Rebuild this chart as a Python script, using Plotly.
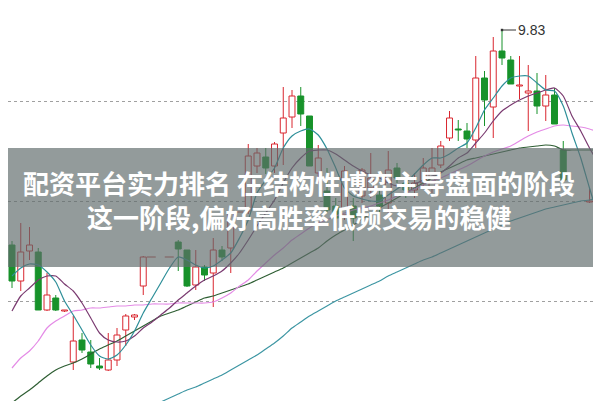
import plotly.graph_objects as go

# ---- data (price units) ----
days = [0, 1, 2, 3, 4, 5, 6, 7, 8, 9, 10, 11, 12, 13, 14, 15,
        19, 20, 21, 22, 23, 24, 25,
        27, 28, 29, 30, 31, 32, 33, 34, 35, 36, 37, 38, 39, 40, 41, 42, 43, 44,
        45, 46, 47, 48, 49, 50, 51, 52, 53, 54, 55, 56, 57, 58, 59, 60, 61, 62, 63,
        66, 67, 68]
opens = [8.755, 8.575, 8.725, 8.72, 8.43, 8.49, 8.425, 8.17, 8.28, 8.22, 8.15, 8.13, 8.18, 8.33, 8.395, 8.55,
         8.77, 8.73, 8.555, 8.645, 8.615, 8.73, 8.74,
         8.925, 9.15, 9.195, 9.15, 9.315, 9.395, 9.50, 9.40, 9.115, 9.025, 8.95, 8.905, 8.95, 9.00, 9.04, 9.005, 8.965, 9.14,
         9.065, 9.03, 9.065, 9.04, 9.155, 9.29, 9.335, 9.325, 9.28, 9.59, 9.445, 9.725, 9.68, 9.55, 9.515, 9.525, 9.45, 9.505, 9.23,
         8.97, 8.865, 8.855]
highs = [8.775, 8.865, 8.845, 8.74, 8.615, 8.505, 8.43, 8.40, 8.315, 8.28, 8.19, 8.315, 8.34, 8.41, 8.41, 8.70,
         8.78, 8.73, 8.73, 8.655, 8.79, 8.75, 8.93,
         9.26, 9.24, 9.24, 9.27, 9.545, 9.53, 9.545, 9.40, 9.255, 9.14, 8.99, 9.15, 8.99, 9.14, 9.215, 9.04, 9.225, 9.165,
         9.09, 9.115, 9.19, 9.24, 9.275, 9.425, 9.38, 9.365, 9.70, 9.625, 9.795, 9.83, 9.70, 9.70, 9.655, 9.615, 9.605, 9.54, 9.275,
         9.04, 8.955, 8.865]
lows = [8.54, 8.525, 8.68, 8.43, 8.425, 8.425, 8.42, 8.13, 8.215, 8.14, 8.13, 8.125, 8.15, 8.25, 8.38, 8.505,
        8.625, 8.545, 8.53, 8.575, 8.445, 8.675, 8.615,
        8.91, 9.115, 9.11, 9.115, 9.155, 9.34, 9.35, 9.15, 9.065, 8.915, 8.865, 8.88, 8.775, 8.965, 8.99, 8.915, 8.915, 9.065,
        8.99, 8.99, 9.04, 9.015, 9.14, 9.275, 9.275, 9.24, 9.24, 9.35, 9.29, 9.655, 9.56, 9.485, 9.325, 9.41, 9.375, 9.36, 9.08,
        8.965, 8.625, 8.70]
closes = [8.575, 8.72, 8.755, 8.43, 8.505, 8.43, 8.43, 8.275, 8.23, 8.16, 8.14, 8.18, 8.305, 8.40, 8.405, 8.695,
          8.735, 8.55, 8.645, 8.605, 8.73, 8.695, 8.92,
          9.20, 9.215, 9.14, 9.26, 9.39, 9.50, 9.41, 9.15, 9.19, 8.93, 8.89, 9.125, 8.89, 9.13, 9.09, 8.95, 9.13, 9.09,
          9.03, 9.065, 9.14, 9.14, 9.25, 9.39, 9.33, 9.285, 9.59, 9.48, 9.725, 9.69, 9.56, 9.555, 9.525, 9.45, 9.505, 9.36, 9.08,
          8.975, 8.855, 8.74]

all_days = list(range(69))
ma5 = [8.60, 8.64, 8.66, 8.655, 8.62, 8.57, 8.475, 8.405, 8.33, 8.255,
       8.20, 8.185, 8.205, 8.255, 8.325, 8.415, 8.49, 8.565, 8.64, 8.695,
       8.68, 8.655, 8.64, 8.65, 8.68, 8.715, 8.79, 8.88, 9.015, 9.08,
       9.14, 9.24, 9.30, 9.325, 9.335, 9.305, 9.235, 9.14, 9.04, 9.00,
       8.985, 8.975, 8.975, 9.005, 9.035, 9.065, 9.11, 9.155, 9.19, 9.19,
       9.21, 9.24, 9.265, 9.34, 9.43, 9.49, 9.55, 9.59, 9.60, 9.60,
       9.565, 9.53, 9.525, 9.45, 9.315, 9.19, 9.04, 8.905, 8.84]
ma10 = [8.425, 8.50, 8.54, 8.58, 8.60, 8.60, 8.56, 8.525, 8.465, 8.39,
        8.315, 8.28, 8.27, 8.275, 8.30, 8.34, 8.37, 8.405, 8.44, 8.48,
        8.515, 8.55, 8.58, 8.60, 8.625, 8.665, 8.715, 8.78, 8.85, 8.915,
        8.98, 9.065, 9.14, 9.19, 9.225, 9.23, 9.23, 9.21, 9.18, 9.15,
        9.125, 9.105, 9.09, 9.065, 9.05, 9.05, 9.06, 9.08, 9.10, 9.115,
        9.15, 9.19, 9.215, 9.265, 9.315, 9.375, 9.425, 9.455, 9.48, 9.50,
        9.515, 9.53, 9.54, 9.50, 9.40, 9.325, 9.24, 9.165, 9.08]
ma20 = [8.14, 8.19, 8.225, 8.275, 8.34, 8.375, 8.40, 8.425, 8.43, 8.44,
        8.44, 8.445, 8.45, 8.45, 8.455, 8.455, 8.46, 8.46, 8.46, 8.465,
        8.465, 8.465, 8.465, 8.47, 8.49, 8.515, 8.55, 8.58, 8.625, 8.665,
        8.705, 8.74, 8.78, 8.81, 8.84, 8.865, 8.88, 8.90, 8.915, 8.93,
        8.94, 8.95, 8.965, 8.98, 9.00, 9.015, 9.035, 9.055, 9.075, 9.09,
        9.11, 9.13, 9.15, 9.175, 9.20, 9.22, 9.235, 9.25, 9.275, 9.30,
        9.32, 9.335, 9.35, 9.355, 9.35, 9.345, 9.335, 9.32, 9.305]
ma30 = [7.965, 8.00, 8.03, 8.065, 8.10, 8.13, 8.15, 8.165, 8.185, 8.21,
        8.235, 8.255, 8.275, 8.30, 8.325, 8.35, 8.375, 8.40, 8.415, 8.43,
        8.45, 8.47, 8.49, 8.50, 8.515, 8.53, 8.545, 8.56, 8.58, 8.60,
        8.62, 8.64, 8.665, 8.69, 8.715, 8.74, 8.775, 8.805, 8.83, 8.855,
        8.885, 8.91, 8.94, 8.965, 8.99, 9.015, 9.04, 9.065, 9.09, 9.12,
        9.14, 9.16, 9.18, 9.19, 9.20, 9.21, 9.22, 9.23, 9.24, 9.245,
        9.25, 9.255, 9.25, 9.23, 9.23, 9.23, 9.23, 9.23, 9.23]
ma60 = [None] * 13 + [7.90, 7.92,
        7.935, 7.95, 7.97, 7.99, 8.01, 8.03, 8.045, 8.065, 8.085, 8.105,
        8.13, 8.155, 8.18, 8.205, 8.235, 8.265, 8.30, 8.34, 8.37, 8.40,
        8.425, 8.45, 8.475, 8.495, 8.515, 8.535, 8.555, 8.575, 8.60, 8.62,
        8.64, 8.66, 8.68, 8.695, 8.715, 8.735, 8.755, 8.775, 8.795, 8.815,
        8.835, 8.855, 8.875, 8.89, 8.905, 8.92, 8.935, 8.945, 8.955, 8.965,
        8.975, 8.98, 8.99, 9.00]

# gaps (dashed level lines over days without candles)
gap_from = [15, 25]
gap_to = [19, 27]
gap_level = [8.695, 8.92]

grid_levels = [9.475, 8.975, 8.475, 7.975]
peak_day = 56
peak_value = 9.83
peak_label = "9.83"

title_line1 = "配资平台实力排名 在结构性博弈主导盘面的阶段"
title_line2 = "这一阶段,偏好高胜率低频交易的稳健"

for arr in (ma5, ma10, ma20, ma30, ma60):
    assert len(arr) == 69, len(arr)
assert len(days) == len(opens) == len(highs) == len(lows) == len(closes)

RED = "#d9262f"
GREEN = "#17922a"
BODY_W = 0.68
MIN_BODY = 0.004

fig = go.Figure()

# wicks (drawn outside the body so hollow bodies stay clean)
for up in (True, False):
    wx, wy = [], []
    for d, o, h, l, c in zip(days, opens, highs, lows, closes):
        if (c >= o) != up:
            continue
        top, bot = max(o, c), min(o, c)
        if h > top:
            wx += [d, d, None]; wy += [top, h, None]
        if l < bot:
            wx += [d, d, None]; wy += [bot, l, None]
    fig.add_trace(go.Scatter(x=wx, y=wy, mode="lines",
                             line=dict(color=RED if up else GREEN, width=1),
                             showlegend=False, hoverinfo="skip"))

# bodies
for up in (True, False):
    bx, bbase, bh = [], [], []
    for d, o, c in zip(days, opens, closes):
        if (c >= o) != up:
            continue
        bot = min(o, c)
        bx.append(d); bbase.append(bot); bh.append(max(abs(c - o), MIN_BODY))
    fig.add_trace(go.Bar(x=bx, y=bh, base=bbase, width=BODY_W,
                         marker=dict(color="#ffffff" if up else GREEN,
                                     line=dict(color=RED if up else GREEN, width=1)),
                         showlegend=False, hoverinfo="skip"))

for a, b, lv in zip(gap_from, gap_to, gap_level):
    fig.add_trace(go.Scatter(x=[a + 0.4, b - 0.4], y=[lv, lv], mode="lines",
                             line=dict(color="#c0393b", width=1, dash="dash"),
                             showlegend=False, hoverinfo="skip"))

line_specs = [
    (ma60, "#3d96a3"),
    (ma30, "#2e5e33"),
    (ma20, "#e48be6"),
    (ma10, "#7a3a70"),
    (ma5, "#2e8f99"),
]
for vals, col in line_specs:
    fig.add_trace(go.Scatter(x=all_days, y=vals, mode="lines",
                             line=dict(color=col, width=1.2, shape="spline", smoothing=0.6),
                             connectgaps=False, showlegend=False, hoverinfo="skip"))

fig.add_annotation(x=peak_day, y=peak_value, text=peak_label, showarrow=True,
                   arrowhead=7, arrowsize=0.6, arrowwidth=1, arrowcolor="#333333",
                   ax=14, ay=0, xanchor="left", yanchor="middle",
                   font=dict(family="Liberation Sans, Arial", size=14, color="#333333"))

# banner
fig.add_shape(type="rect", xref="paper", yref="paper", x0=0, x1=1,
              y0=1 - 259 / 401, y1=1 - 140 / 401, layer="above",
              line=dict(width=0), fillcolor="rgba(96,107,107,0.68)")
fig.add_annotation(xref="paper", yref="paper", x=0.484, y=1 - 174 / 401,
                   text="<b>" + title_line1 + "</b>", showarrow=False,
                   font=dict(family="Noto Sans CJK SC", size=26, color="#ffffff"))
fig.add_annotation(xref="paper", yref="paper", x=0.484, y=1 - 209 / 401,
                   text="<b>" + title_line2 + "</b>", showarrow=False,
                   font=dict(family="Noto Sans CJK SC", size=26, color="#ffffff"))

fig.update_layout(
    width=601, height=401, margin=dict(l=0, r=0, t=0, b=0),
    paper_bgcolor="white", plot_bgcolor="white", barmode="overlay",
    xaxis=dict(range=[-0.457, 68.229], showgrid=False, zeroline=False,
               showticklabels=False, fixedrange=True),
    yaxis=dict(range=[7.935, 9.94], tickvals=grid_levels, showticklabels=False,
               showgrid=True, gridcolor="#a0a0a0", griddash="dot", gridwidth=1,
               zeroline=False, fixedrange=True),
)

fig.write_html("out.html", config={"displayModeBar": False})
